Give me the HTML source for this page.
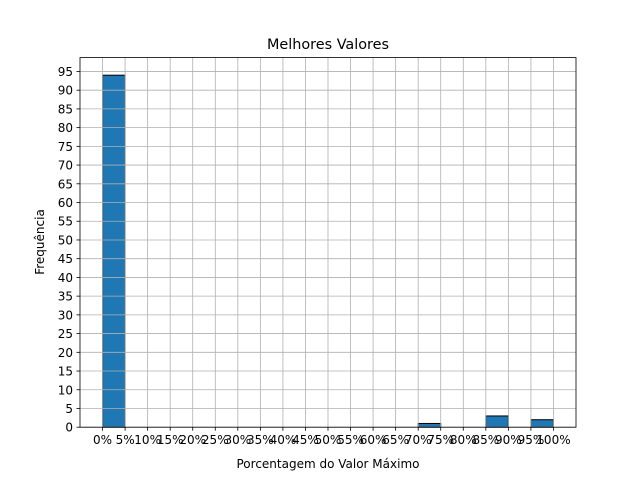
<!DOCTYPE html>
<html><head><meta charset="utf-8"><style>body{margin:0;background:#fff}svg{display:block}text{font-family:"DejaVu Sans","Liberation Sans",sans-serif;fill:#000}</style></head>
<body>
<svg id="chart" width="640" height="480" xmlns="http://www.w3.org/2000/svg">
<rect x="0" y="0" width="640" height="480" fill="#fff"/>
<g id="bars"></g>
<g id="grid"></g>
<g id="axes"></g>
<text x="328" y="49" font-size="14.4" text-anchor="middle">Melhores Valores</text>
<text x="328" y="468" font-size="12" text-anchor="middle">Porcentagem do Valor Máximo</text>
<text transform="translate(44,242) rotate(-90)" font-size="12" text-anchor="middle">Frequência</text>
</svg>
<script>
const binStarts = [0,0.05,0.1,0.15,0.2,0.25,0.3,0.35,0.4,0.45,0.5,0.55,0.6,0.65,0.7,0.75,0.8,0.85,0.9,0.95];
const counts = [94,0,0,0,0,0,0,0,0,0,0,0,0,0,1,0,0,3,0,2];
const xTicks = [0,0.05,0.1,0.15,0.2,0.25,0.3,0.35,0.4,0.45,0.5,0.55,0.6,0.65,0.7,0.75,0.8,0.85,0.9,0.95,1.0];
const xTickLabels = ["0%","5%","10%","15%","20%","25%","30%","35%","40%","45%","50%","55%","60%","65%","70%","75%","80%","85%","90%","95%","100%"];
const yTicks = [0,5,10,15,20,25,30,35,40,45,50,55,60,65,70,75,80,85,90,95];
const binWidth = 0.05;
const L=80,R=576,T=57.6,B=427.2;
const xMin=-0.05,xMax=1.05,yMax=Math.max(...counts)*1.05;
const X=v=>L+(v-xMin)/(xMax-xMin)*(R-L);
const Y=v=>B-v/yMax*(B-T);
const NS="http://www.w3.org/2000/svg";
function mk(tag,attrs,parent){const e=document.createElementNS(NS,tag);for(const k in attrs)e.setAttribute(k,attrs[k]);parent.appendChild(e);return e;}
const bars=document.getElementById('bars'),grid=document.getElementById('grid'),axes=document.getElementById('axes');
binStarts.forEach((s,i)=>{if(counts[i]<=0)return;
 const r=mk('rect',{x:X(s),y:Y(counts[i]),width:X(s+binWidth)-X(s),height:B-Y(counts[i]),fill:'#1f77b4',stroke:'#000','stroke-width':1},bars);
 
 
});
xTicks.forEach((v,i)=>{
 const l=mk('line',{x1:X(v),x2:X(v),y1:T,y2:B,stroke:'#b0b0b0','stroke-width':0.8},grid);
 
 
 const tk=mk('line',{x1:X(v),x2:X(v),y1:B,y2:B+3.5,stroke:'#000','stroke-width':0.8},axes);
 
 
 const t=mk('text',{x:X(v),y:B+17,'font-size':12,'text-anchor':'middle'},axes);
 t.textContent=xTickLabels[i];
 
 
});
yTicks.forEach(v=>{
 const l=mk('line',{x1:L,x2:R,y1:Y(v),y2:Y(v),stroke:'#b0b0b0','stroke-width':0.8},grid);
 
 
 const tk=mk('line',{x1:L-3.5,x2:L,y1:Y(v),y2:Y(v),stroke:'#000','stroke-width':0.8},axes);
 
 
 const t=mk('text',{x:L-7,y:Y(v)+4.5,'font-size':12,'text-anchor':'end'},axes);
 t.textContent=v;
 
 
});
const f=mk('rect',{x:L,y:T,width:R-L,height:B-T,fill:'none',stroke:'#000','stroke-width':0.8},axes);


</script>
</body></html>
